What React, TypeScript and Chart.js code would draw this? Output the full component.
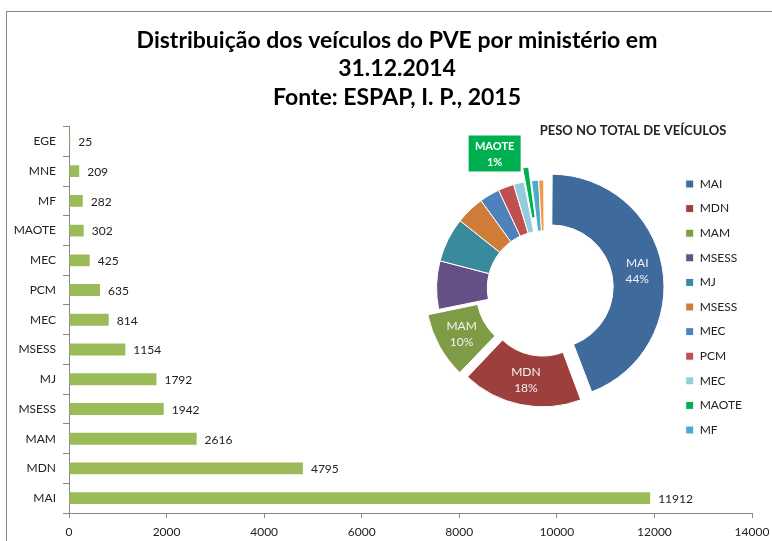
import { useEffect, useRef } from 'react';
import { Chart, registerables } from 'chart.js';

Chart.register(...registerables);

// ---- data (doughnut order, largest first) ----
const ministries = ['MAI', 'MDN', 'MAM', 'MSESS', 'MJ', 'MSESS', 'MEC', 'PCM', 'MEC', 'MAOTE', 'MF', 'MNE', 'EGE'];
const vehicles = [11912, 4795, 2616, 1942, 1792, 1154, 814, 635, 425, 302, 282, 209, 25];

// bar chart shows them smallest at top
const barLabels = [...ministries].reverse();
const barValues = [...vehicles].reverse();

const titleLines = ['Distribuição dos veículos do PVE por ministério em', '31.12.2014', 'Fonte: ESPAP, I. P., 2015'];
const pieTitle = 'PESO NO TOTAL DE VEÍCULOS';
const xMin = 0;
const xMax = 14000;
const xStep = 2000;
const labelledSlices = [0, 1, 2];
const calloutSlice = 9;
const legendCount = 11;

// ---- styles ----
const FONT = 'Lato';
const sliceColors = ['#3F6A9C', '#9D3F3C', '#7E9B45', '#664E86', '#3A8A9D', '#D07B38', '#4F81BD', '#C0504D', '#93CDDD', '#00B050', '#4BACC6', '#F79646', '#2C4D75'];
const sliceOffsets = [28, 40, 34, 0, 0, 0, 0, 0, 0, 29, 0, 0, 0];

Chart.defaults.font.family = FONT;

const barValueLabels = {
  id: 'barValueLabels',
  afterDatasetsDraw(chart: any) {
    const ctx = chart.ctx;
    const meta = chart.getDatasetMeta(0);
    ctx.save();
    ctx.font = `12px ${FONT}`;
    ctx.fillStyle = '#222';
    ctx.textAlign = 'left';
    ctx.textBaseline = 'middle';
    meta.data.forEach((el: any, i: number) => {
      ctx.fillText(String(barValues[i]), el.x + 8, el.y + 1);
    });
    ctx.restore();
  },
};

function slicePoint(el: any, i: number, radial: 'mid' | 'outer') {
  const { x, y, startAngle, endAngle, innerRadius, outerRadius } = el.getProps(
    ['x', 'y', 'startAngle', 'endAngle', 'innerRadius', 'outerRadius'],
    true
  );
  const mid = (startAngle + endAngle) / 2;
  const off = (sliceOffsets[i] || 0) / 4;
  const fix = 1 - Math.sin(Math.min(Math.PI, endAngle - startAngle));
  const base = radial === 'mid' ? (innerRadius + outerRadius) / 2 : outerRadius;
  const r = base + off + off * fix;
  return { px: x + Math.cos(mid) * r, py: y + Math.sin(mid) * r };
}

const pieText = {
  id: 'pieText',
  afterDraw(chart: any) {
    const ctx = chart.ctx;
    const meta = chart.getDatasetMeta(0);
    const total = vehicles.reduce((a, b) => a + b, 0);
    ctx.save();
    ctx.textAlign = 'center';
    ctx.textBaseline = 'middle';
    ctx.font = `bold 13px ${FONT}`;
    ctx.fillStyle = '#222';
    ctx.fillText(pieTitle, 233, 16);

    ctx.font = `12px ${FONT}`;
    ctx.fillStyle = '#F2F2F2';
    labelledSlices.forEach((i) => {
      const { px, py } = slicePoint(meta.data[i], i, 'mid');
      ctx.fillText(ministries[i], px, py - 8);
      ctx.fillText(Math.round((vehicles[i] / total) * 100) + '%', px, py + 8);
    });

    const { px, py } = slicePoint(meta.data[calloutSlice], calloutSlice, 'outer');
    const bx = px - 31;
    const by = py - 14;
    ctx.fillStyle = sliceColors[calloutSlice];
    ctx.fillRect(bx - 26, by - 18, 52, 36);
    ctx.fillStyle = '#FFFFFF';
    ctx.font = `bold 11px ${FONT}`;
    ctx.fillText(ministries[calloutSlice], bx, by - 7);
    ctx.fillText(Math.round((vehicles[calloutSlice] / total) * 100) + '%', bx, by + 9);
    ctx.restore();
  },
};

export default function App() {
  const barRef = useRef<HTMLCanvasElement>(null);
  const pieRef = useRef<HTMLCanvasElement>(null);

  useEffect(() => {
    const bar = new Chart(barRef.current as HTMLCanvasElement, {
      type: 'bar',
      data: {
        labels: barLabels,
        datasets: [
          {
            data: barValues,
            backgroundColor: '#9BBB59',
            barPercentage: 0.4,
            categoryPercentage: 1,
          },
        ],
      },
      options: {
        indexAxis: 'y',
        responsive: false,
        animation: false,
        layout: { padding: { left: 0, right: 0, top: 0, bottom: 0 } },
        plugins: {
          legend: { display: false },
          tooltip: { enabled: false },
          title: {
            display: true,
            text: titleLines,
            color: '#000',
            font: { family: FONT, size: 23, weight: 'bold', lineHeight: 1.24 },
            padding: { top: 26, bottom: 15 },
          },
        },
        scales: {
          x: {
            min: xMin,
            max: xMax,
            ticks: {
              stepSize: xStep,
              padding: 7,
              color: '#222',
              font: { size: 12 },
              callback: (v: any) => String(v),
            },
            grid: { drawOnChartArea: false, tickLength: 5, color: '#888' },
            border: { color: '#888' },
            afterFit: (s: any) => {
              s.height = 28;
              s.paddingLeft = 0;
              s.paddingRight = 42;
            },
          },
          y: {
            ticks: { padding: 7, color: '#222', font: { size: 12 }, autoSkip: false },
            grid: { drawOnChartArea: false, tickLength: 6, color: '#888', offset: true },
            border: { color: '#888' },
            afterFit: (s: any) => {
              s.width = 69;
            },
          },
        },
      },
      plugins: [barValueLabels],
    } as any);

    const pie = new Chart(pieRef.current as HTMLCanvasElement, {
      type: 'doughnut',
      data: {
        labels: ministries,
        datasets: [
          {
            data: vehicles,
            backgroundColor: sliceColors,
            offset: sliceOffsets,
            borderColor: '#FFFFFF',
            borderWidth: 1,
          },
        ],
      },
      options: {
        responsive: false,
        animation: false,
        radius: 108,
        cutout: '53%',
        layout: { padding: { left: 16, right: 20, top: 5, bottom: 0 } },
        plugins: {
          tooltip: { enabled: false },
          legend: {
            position: 'right',
            align: 'start',
            title: { display: true, text: ' ', padding: { top: 31, bottom: 0 }, font: { size: 12 } },
            labels: {
              boxWidth: 8,
              boxHeight: 8,
              padding: 12.6,
              color: '#222',
              font: { size: 12 },
              filter: (item: any) => item.index < legendCount,
            },
          },
        },
      },
      plugins: [pieText],
    } as any);

    return () => {
      bar.destroy();
      pie.destroy();
    };
  }, []);

  return (
    <div style={{ position: 'absolute', left: 0, top: 0, width: 772, height: 541, overflow: 'hidden', background: '#fff' }}>
      <div
        style={{
          position: 'absolute',
          left: 6,
          top: 11,
          width: 800,
          height: 600,
          borderLeft: '1px solid #888',
          borderTop: '1px solid #888',
        }}
      />
      <canvas ref={barRef} width={794} height={541} style={{ position: 'absolute', left: 0, top: 0, width: 794, height: 541 }} />
      <canvas ref={pieRef} width={372} height={341} style={{ position: 'absolute', left: 400, top: 115, width: 372, height: 341 }} />
    </div>
  );
}
